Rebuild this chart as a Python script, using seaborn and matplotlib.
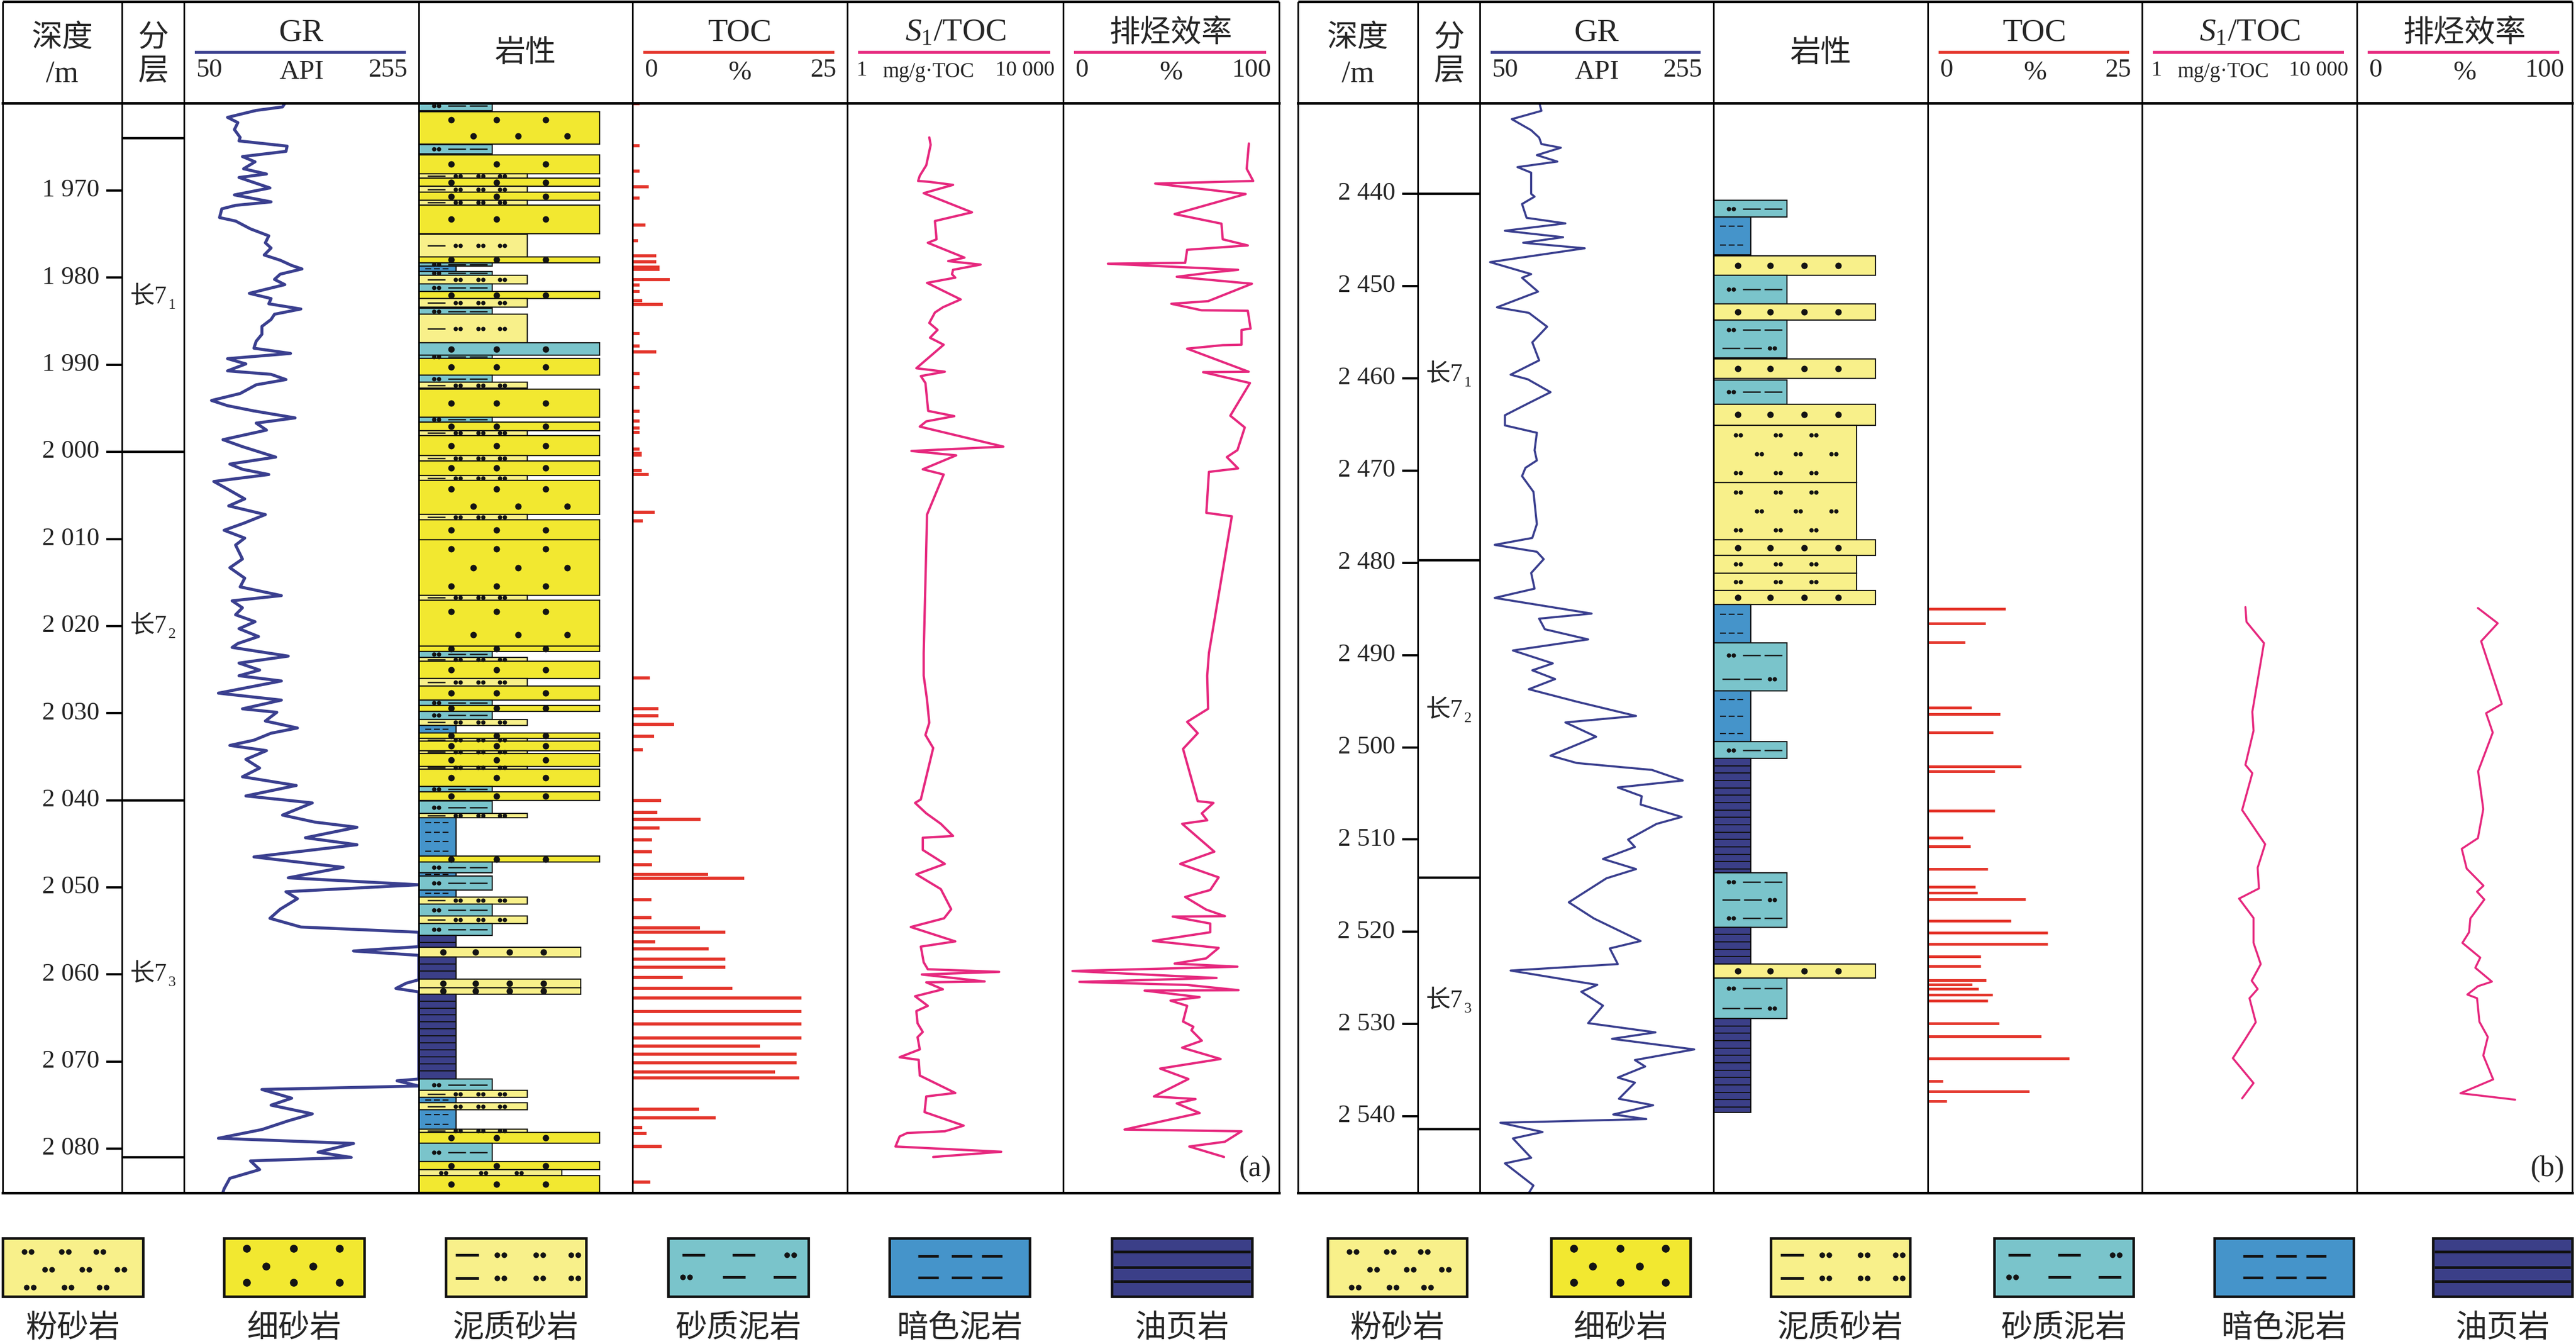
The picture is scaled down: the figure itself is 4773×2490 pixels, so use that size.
import numpy as np
import pandas as pd
import matplotlib
matplotlib.use("Agg")
import matplotlib.pyplot as plt
import seaborn as sns
from matplotlib.patches import Rectangle

sns.set_theme(style="white")
plt.rcParams['font.family'] = ['Liberation Serif', 'Noto Sans CJK SC', 'DejaVu Sans']
plt.rcParams['mathtext.fontset'] = 'custom'
plt.rcParams['mathtext.rm'] = 'Liberation Serif'
plt.rcParams['mathtext.it'] = 'Liberation Serif:italic'
plt.rcParams['axes.unicode_minus'] = False

# ---------------------------------------------------------------- data (a)
L_GR = np.array([
 (1959.8,139),(1960.4,136),(1960.8,113),(1961.6,88),(1962.2,97),(1963.0,94),(1963.9,99),(1964.3,98),
 (1964.9,140),(1965.5,139),(1966.1,101),(1966.7,112),(1967.5,102),(1968.1,122),(1968.5,98),(1969.7,125),
 (1970.5,94),(1971.3,126),(1971.7,95),(1972.1,83),(1973.1,81),(1973.5,95),(1974.4,108),(1975.2,124),
 (1976.0,121),(1976.6,126),(1977.4,120),(1978.0,134),(1978.6,144),(1979.0,153),(1979.6,134),(1980.2,129),
 (1980.8,138),(1981.8,107),(1982.4,126),(1983.0,124),(1983.6,152),(1984.2,129),(1984.8,126),(1985.6,118),
 (1986.5,118),(1987.3,113),(1988.1,111),(1988.7,143),(1989.3,88),(1989.9,104),(1990.7,88),(1991.1,126),
 (1991.7,139),(1992.3,113),(1993.3,99),(1994.1,74),(1994.7,88),(1995.3,111),(1996.1,147),(1996.7,113),
 (1997.5,122),(1998.6,84),(1999.4,101),(2000.6,130),(2001.4,90),(2002.0,101),(2002.6,124),(2003.4,76),
 (2004.2,87),(2005.4,103),(2006.2,89),(2007.2,121),(2008.2,102),(2009.0,85),(2009.9,103),(2010.7,95),
 (2012.3,101),(2013.3,90),(2014.5,103),(2015.5,99),(2016.5,135),(2017.1,92),(2017.9,101),(2018.7,95),
 (2019.5,112),(2020.3,98),(2021.2,115),(2022.0,97),(2022.45,92),(2023.45,141),(2024.25,98),(2025.05,116),
 (2025.7,98),(2026.3,135),(2027.7,80),(2028.5,135),(2029.5,101),(2029.9,131),(2030.9,121),(2031.7,149),
 (2032.3,126),(2033.1,111),(2033.7,90),(2034.3,122),(2035.3,104),(2036.3,116),(2037.3,101),(2038.3,148),
 (2039.5,104),(2040.3,162),(2041.7,136),(2042.5,164),(2043.1,201),(2044.3,156),(2045.1,201),(2046.5,111),
 (2047.7,189),(2048.9,141),(2049.7,255),(2050.5,139),(2051.3,149),(2052.5,134),(2053.55,125),(2054.55,152),
 (2055.15,255),(2056.8,255),(2057.3,198),(2057.8,255),(2060.6,255),(2061.0,244),(2061.6,235),(2062.0,255),
 (2072.0,255),(2072.2,236),(2072.8,255),(2073.2,118),(2074.2,144),(2075.0,126),(2076.0,162),(2076.8,141),
 (2077.8,118),(2078.8,80),(2079.4,198),(2080.4,167),(2081.0,196),(2081.4,108),(2082.4,116),(2083.4,90),
 (2084.6,85),(2085.0,84)])

L_TOC = np.array([
 (1960.03,0.83),(1964.87,0.83),(1967.74,0.83),(1969.55,1.9),(1970.84,0.83),(1973.95,1.5),(1975.76,0.63),
 (1977.5,2.77),(1978.18,2.77),(1978.79,3.16),(1979.03,3.16),(1980.2,4.33),(1980.85,0.83),(1981.57,0.83),
 (1982.62,1.12),(1983.1,3.5),(1986.41,0.83),(1987.87,0.83),(1988.55,2.77),(1991.01,0.83),(1992.59,0.83),
 (1995.33,0.83),(1996.46,0.83),(1997.27,0.83),(1997.75,0.83),(1999.69,0.83),(2000.17,1.07),(2000.37,1.07),
 (2002.19,1.07),(2002.59,1.9),(2006.9,2.58),(2007.92,1.2),(2025.94,2.04),(2029.47,3.0),(2030.3,3.0),
 (2031.28,4.86),(2032.64,2.53),(2034.17,1.22),(2040.03,3.36),(2041.39,2.92),(2042.19,7.93),(2043.16,3.16),
 (2044.52,2.29),(2045.93,2.29),(2047.41,2.29),(2048.53,8.8),(2048.93,13.0),(2051.42,2.19),(2053.47,2.19),
 (2054.63,7.88),(2055.15,10.8),(2056.24,2.63),(2057.04,8.85),(2058.24,10.8),(2059.17,10.8),(2060.33,5.84),
 (2061.6,11.6),(2062.7,19.65),(2064.22,19.65),(2065.67,19.65),(2067.27,19.65),(2068.24,14.8),(2069.12,19.1),
 (2070.16,19.1),(2071.17,16.6),(2071.85,19.4),(2075.46,7.73),(2076.46,9.68),(2077.55,1.12),(2078.23,1.65),
 (2079.75,3.4),(2083.85,2.09)])

L_S1 = np.array([
 (1963.9,33),(1964.75,35),(1967.1,29),(1968.3,22),(1968.9,20.5),(1969.0,33),(1969.35,91),(1970.3,26),
 (1972.5,204),(1973.5,42),(1975.6,45),(1976.0,31),(1977.7,148),(1978.1,74),(1978.5,294),(1979.1,91),
 (1979.6,87),(1980.0,100),(1980.6,30),(1982.5,126),(1983.4,59),(1984.0,42),(1985.2,33),(1986.0,47),
 (1986.9,34),(1987.7,61),(1990.4,19),(1990.8,64),(1991.3,23),(1992.1,28),(1995.3,31.5),(1995.9,96),
 (1996.5,29),(1997.1,22),(1999.4,780),(1999.9,15.4),(2000.4,104),(2002.0,25),(2002.6,61),(2007.2,30),
 (2023.1,26),(2025.7,26),(2028.5,30),(2031.1,33),(2032.5,28),(2034.0,39),(2039.9,23),(2040.3,18),
 (2041.5,29),(2042.7,54),(2044.1,91),(2044.3,25),(2045.7,25),(2047.3,64),(2048.5,19),(2050.2,54),
 (2052.5,84),(2053.55,62),(2054.55,15),(2056.2,100),(2056.8,23),(2058.6,26),(2059.4,31),(2059.7,650),
 (2060.0,24),(2060.8,350),(2060.9,29),(2061.7,59),(2062.5,18),(2063.6,31),(2064.2,19),(2065.6,20),
 (2066.6,25),(2067.2,20),(2068.6,22),(2069.5,9.3),(2069.8,21),(2071.6,22),(2073.6,100),(2074.0,29),
 (2075.8,27),(2077.35,143),(2078.0,64),(2078.2,12.8),(2078.6,9.3),(2079.75,7.8),(2080.35,710),(2080.95,39)])

L_EFF = np.array([
 (1964.6,86),(1967.5,85),(1968.9,88),(1969.2,42.6),(1970.4,84.5),(1972.7,51.6),(1973.8,73.3),(1975.6,73.9),
 (1976.3,85.5),(1976.8,57.4),(1978.3,56.5),(1978.4,20.7),(1979.1,81),(1979.4,69),(1979.9,52.6),(1980.7,87.4),
 (1982.7,67.1),(1983.0,50.1),(1983.75,64.2),(1983.8,85.5),(1985.85,86.8),(1986.0,82.6),(1987.7,82.6),
 (1987.75,73.9),(1988.15,57.4),(1990.8,85.9),(1990.85,64.8),(1992.1,86.5),(1995.85,77.4),(1997.2,84.1),
 (1999.8,80.7),(2000.6,75.8),(2001.9,81),(2002.3,67.5),(2007.0,66.3),(2007.4,78.1),(2023.1,67.5),
 (2025.7,66.7),(2029.5,67.1),(2031.0,57.4),(2032.3,62.3),(2034.1,55.5),(2040.1,62.3),(2040.3,69.6),
 (2041.5,64.2),(2042.3,66.7),(2042.7,55.1),(2045.9,70),(2047.3,54.2),(2048.85,72),(2050.3,68.1),
 (2051.1,56.5),(2052.55,66.2),(2053.3,74.9),(2053.35,50.7),(2054.15,68.1),(2055.15,68.1),(2056.15,41.6),
 (2056.95,72),(2058.15,66.2),(2058.75,51.6),(2059.1,80.7),(2059.6,4.3),(2060.4,71),(2060.85,7.5),
 (2061.2,57.4),(2061.8,81.2),(2061.85,37.7),(2062.6,63.2),(2063.0,49.7),(2063.6,57.4),(2065.4,55.5),
 (2066.0,60.3),(2066.4,59.4),(2067.6,64.2),(2068.4,55.1),(2069.7,72.9),(2070.8,44.9),(2072.0,58),
 (2074.0,42),(2074.3,61.3),(2074.8,52.6),(2075.9,63.2),(2077.8,28.4),(2078.0,82.6),(2079.2,74.9),
 (2079.75,58.4),(2080.95,74.5)])

L_BED_TOP = [1959.8,1960.96,1964.75,1965.88,1968.1,1968.6,1969.5,1970.2,1971.1,1971.65,1975.0,1977.6,
 1978.3,1978.7,1979.3,1979.7,1980.7,1981.6,1982.4,1983.5,1984.2,1987.5,1988.9,1989.3,1991.2,1992.0,1992.8,
 1996.0,1996.6,1997.55,1998.15,2000.45,2001.05,2002.7,2003.3,2007.2,2007.8,2010.1,2016.5,2017.0,2022.3,
 2022.9,2023.6,2024.05,2026.0,2026.9,2028.5,2029.1,2029.8,2030.7,2031.4,2032.25,2032.9,2033.2,2034.3,
 2034.6,2036.1,2036.4,2038.4,2039.0,2040.1,2041.5,2042.0,2046.4,2047.1,2048.3,2048.7,2050.3,2051.1,
 2051.9,2053.3,2054.15,2055.5,2056.9,2058.0,2060.55,2061.5,2062.25,2072.0,2073.3,2074.1,2074.75,2075.55,
 2077.75,2078.15,2079.35,2081.5,2082.4,2083.1]
L_BED_BOT = [1960.8,1964.67,1965.76,1968.1,1968.6,1969.5,1970.2,1971.1,1971.65,1974.96,1977.6,1978.3,
 1978.7,1979.3,1979.7,1980.7,1981.6,1982.4,1983.4,1984.2,1987.5,1988.9,1989.3,1991.2,1992.0,1992.7,1996.0,
 1996.6,1997.55,1998.15,2000.45,2001.05,2002.7,2003.3,2007.2,2007.8,2010.1,2016.5,2017.0,2022.3,2022.9,
 2023.6,2024.05,2026.0,2026.9,2028.5,2029.1,2029.8,2030.7,2031.4,2032.25,2032.9,2033.2,2034.3,2034.6,
 2036.1,2036.4,2038.4,2039.0,2040.0,2041.5,2042.0,2046.4,2047.1,2048.3,2048.7,2050.3,2051.1,2051.9,
 2053.3,2054.15,2055.5,2056.9,2058.0,2060.55,2061.5,2062.25,2072.0,2073.3,2074.1,2074.75,2075.55,2077.75,
 2078.15,2079.35,2081.5,2082.4,2083.1,2085.0]
L_BED_LITH = ['SM','F','SM','F','MS','F','MS','F','MS','F','MS','F','SM','DM','SM','MS','SM','F','MS','SM',
 'MS','Fc','SM','F','SM','MS','F','SM','F','MS','F','MS','F','MS','F','MS','F','F','MS','F','F','SM','MS',
 'F','MS','F','SM','F','SM','MS','DM','F','MS','F','MS','F','MS','F','SM','F','SM','MS','DM','F','SM','DM',
 'SM','DM','MS','SM','MS','SM','OS','Fp','OS','Fp','Fp','OS','SM','MS','DM','MS','DM','MS','F','SM','F',
 'S','F']

L_DEPTH_TICKS = [1970, 1980, 1990, 2000, 2010, 2020, 2030, 2040, 2050, 2060, 2070, 2080]
L_STRAT_BOUNDS = [1964, 2000, 2040, 2081]
L_STRAT_SUB = ['1', '2', '3']
L_STRAT_DEPTH = [1982.2, 2020.0, 2060.0]

# ---------------------------------------------------------------- data (b)
R_GR = np.array([
 (2430.05,102),(2431.0,104),(2431.9,78),(2433.1,95),(2433.9,102),(2434.6,104),(2435.0,121),(2435.8,100),
 (2436.5,118),(2437.1,83),(2437.7,95),(2440.0,95),(2440.3,98),(2441.1,87),(2442.6,91),(2443.2,125),
 (2444.0,72),(2444.7,123),(2445.3,88),(2445.9,142),(2447.4,59),(2448.7,95),(2449.1,87),(2450.6,101),
 (2452.3,65),(2452.9,93),(2454.4,109),(2456.1,96),(2458.05,102),(2459.6,77),(2460.1,92),(2461.5,112),
 (2462.8,91),(2464.0,72),(2465.1,72),(2465.9,100),(2467.8,98),(2468.9,100),(2469.7,90),(2470.6,87),
 (2472.3,97),(2475.8,100),(2477.3,96),(2478.05,63),(2478.8,100),(2479.6,106),(2481.1,95),(2482.8,98),
 (2483.8,63),(2485.5,148),(2486.05,102),(2487.2,107),(2488.3,145),(2489.5,79),(2490.9,114),(2491.65,96),
 (2492.6,116),(2493.7,93),(2495.05,135),(2496.6,187),(2497.3,125),(2498.85,152),(2500.9,112),(2501.7,135),
 (2502.45,201),(2503.6,228),(2504.35,171),(2505.3,192),(2506.2,191),(2507.55,227),(2508.3,205),(2510.0,180),
 (2510.8,186),(2512.1,158),(2513.2,187),(2514.2,161),(2516.8,128),(2518.55,150),(2521.0,191),(2521.8,164),
 (2523.5,171),(2524.2,77),(2525.75,153),(2526.5,139),(2528.0,158),(2529.9,145),(2530.9,204),(2531.6,166),
 (2532.75,238),(2533.9,186),(2534.6,195),(2535.8,171),(2536.35,186),(2538.1,172),(2538.8,202),(2539.8,167),
 (2540.3,196),(2540.7,68),(2541.7,105),(2542.4,79),(2544.5,95),(2545.1,72),(2547.5,97),(2548.5,92)])

R_TOC = np.array([
 (2485.0,9.04),(2486.55,6.72),(2488.6,4.35),(2495.7,5.08),(2496.4,8.46),(2498.4,7.6),(2502.05,10.9),
 (2502.6,7.8),(2506.9,7.8),(2509.8,4.1),(2510.75,5.0),(2513.2,7.0),(2515.1,5.56),(2515.75,5.8),
 (2516.45,11.4),(2518.8,9.67),(2520.1,14.0),(2521.3,14.0),(2522.7,6.14),(2523.75,6.14),(2525.25,6.77),
 (2525.7,5.17),(2526.2,5.95),(2526.8,7.54),(2527.45,6.96),(2529.9,8.3),(2531.35,13.2),(2533.75,16.5),
 (2536.2,1.79),(2537.3,11.85),(2538.35,2.22)])

R_S1 = np.array([
 (2484.8,84),(2486.4,88),(2488.7,186),(2496.15,113),(2498.2,119),(2501.9,84),(2502.8,113),(2506.8,73),
 (2510.5,196),(2513.05,142),(2515.3,150),(2516.4,64),(2518.5,119),(2521.2,119),(2523.5,162),(2525.3,110),
 (2526.2,142),(2527.2,100),(2529.8,131),(2531.6,84),(2533.7,49),(2536.4,119),(2538.05,73)])

R_EFF = np.array([
 (2484.9,56.2),(2486.55,65.4),(2488.5,57.7),(2495.3,67.3),(2496.3,60.0),(2498.4,63.1),(2502.6,56.3),
 (2506.7,58.7),(2509.85,56.2),(2511.0,48.7),(2513.15,51.0),(2515.0,58.8),(2515.65,55.8),(2516.5,59.2),
 (2518.55,52.7),(2520.05,52.1),(2521.2,49.0),(2522.8,57.3),(2523.9,55.0),(2525.4,62.7),(2525.9,56.2),
 (2526.8,51.3),(2527.2,55.8),(2529.75,56.9),(2531.4,60.8),(2533.4,58.7),(2536.0,63.3),(2537.5,48.1),
 (2538.2,73.5)])

R_BED_TOP = [2440.7,2442.5,2446.7,2448.8,2451.9,2453.7,2457.9,2460.15,2462.8,2465.1,2471.3,2477.5,2479.2,
 2481.1,2483.0,2484.5,2488.7,2493.9,2499.4,2501.2,2513.6,2519.5,2523.5,2525.0,2529.4]
R_BED_BOT = [2442.5,2446.6,2448.8,2451.9,2453.7,2457.75,2460.0,2462.8,2465.1,2471.3,2477.5,2479.2,2481.1,
 2483.0,2484.5,2488.7,2493.9,2499.4,2501.2,2513.6,2519.5,2523.5,2525.0,2529.4,2539.6]
R_BED_LITH = ['SM','DM','Fp','SM','Fp','SM','Fp','SM','Fp','S','S','Fp','S','S','Fp','DM','SM','DM','SM',
 'OS','SM','OS','Fp','SM','OS']

R_DEPTH_TICKS = [2440, 2450, 2460, 2470, 2480, 2490, 2500, 2510, 2520, 2530, 2540]
R_STRAT_BOUNDS = [2440, 2479.7, 2514.1, 2541.4]
R_STRAT_SUB = ['1', '2', '3']
R_STRAT_DEPTH = [2459.6, 2496.0, 2527.5]

LEGEND_CODES = ['S', 'F', 'MS', 'SM', 'DM', 'OS']
LEGEND_NAMES = ['粉砂岩', '细砂岩', '泥质砂岩', '砂质泥岩', '暗色泥岩', '油页岩']

# ---------------------------------------------------------------- styles / layout
W, H = 4773, 2490
HT, HB, DB = 3, 191, 2210
GR_C = '#3A3F8F'
TOC_C = '#E4352B'
MAG_C = '#E6287E'
DOT = '#141414'
LITH = {
    'F':  dict(fc='#F2E830', w=335),
    'Fc': dict(fc='#7AC4CB', w=335),
    'Fp': dict(fc='#F8F08A', w=300),
    'S':  dict(fc='#F8F08A', w=265),
    'MS': dict(fc='#F8F08A', w=201),
    'SM': dict(fc='#7AC4CB', w=136),
    'DM': dict(fc='#4594CA', w=69),
    'OS': dict(fc='#3B3F88', w=69),
}

PANELS = [
    dict(cols=[5, 226, 341, 776, 1172, 1570, 1970, 2370], dtop=1959.96, dbot=2085.07,
         gr=L_GR, toc=L_TOC, s1=L_S1, eff=L_EFF, top=L_BED_TOP, bot=L_BED_BOT, lith=L_BED_LITH,
         ticks=L_DEPTH_TICKS, bounds=L_STRAT_BOUNDS, sub=L_STRAT_SUB, sdep=L_STRAT_DEPTH,
         tag='(a)', dm_sp=1.1, lw_gr=4.0, lw_mag=3.1, lw_toc=4.2,
         leg_x=[5, 415, 826, 1238, 1648, 2060], leg_w=260),
    dict(cols=[2405, 2627, 2742, 3175, 3572, 3969, 4367, 4766], dtop=2430.16, dbot=2548.3,
         gr=R_GR, toc=R_TOC, s1=R_S1, eff=R_EFF, top=R_BED_TOP, bot=R_BED_BOT, lith=R_BED_LITH,
         ticks=R_DEPTH_TICKS, bounds=R_STRAT_BOUNDS, sub=R_STRAT_SUB, sdep=R_STRAT_DEPTH,
         tag='(b)', dm_sp=2.0, lw_gr=2.8, lw_mag=2.7, lw_toc=3.6,
         leg_x=[2460, 2874, 3281, 3695, 4103, 4508], leg_w=258),
]

fig = plt.figure(figsize=(W / 100, H / 100), dpi=100)
fig.patch.set_facecolor('white')
ov = fig.add_axes([0, 0, 1, 1])
ov.set_xlim(0, W)
ov.set_ylim(H, 0)
ov.axis('off')
ov.set_zorder(0)


def fax(x0, x1, y0=HB, y1=DB):
    ax = fig.add_axes([x0 / W, 1 - y1 / H, (x1 - x0) / W, (y1 - y0) / H])
    ax.set_zorder(1)
    ax.set_facecolor('white')
    return ax


def finish(ax):
    ax.set_xlabel('')
    ax.set_ylabel('')
    ax.set_xticks([])
    ax.set_yticks([])
    ax.minorticks_off()
    ax.grid(False)
    for s in ax.spines.values():
        s.set_visible(True)
        s.set_color('black')
        s.set_linewidth(2.2)
    ax.spines['top'].set_linewidth(3.6)
    ax.spines['bottom'].set_linewidth(3.6)


def dots(ax, xs, y, ms, z=5):
    xs = np.atleast_1d(np.asarray(xs, float))
    ax.plot(xs, np.full(len(xs), y), 'o', ms=ms, color=DOT, mec='none', zorder=z, clip_on=True)


def pairs(ax, xs, y, ms, sep, z=5):
    xs = np.atleast_1d(np.asarray(xs, float))
    dots(ax, np.r_[xs - sep / 2, xs + sep / 2], y, ms, z)


def dashes(ax, xs, y, length, lw, z=5):
    xs = np.atleast_1d(np.asarray(xs, float))
    ax.hlines(np.full(len(xs), y), xs - length / 2, xs + length / 2, color=DOT, lw=lw, zorder=z)


def col_pattern(ax, code, top, bot, w, dm_sp):
    t = bot - top
    if code == 'OS':
        ys = np.arange(top + 0.8, bot - 0.15, 0.8)
        if len(ys):
            ax.hlines(ys, 0, w, color='#111111', lw=1.5, zorder=4)
        return
    sp = dm_sp if code == 'DM' else 2.1
    n = max(1, int(round(t / sp - 0.2)))
    for i in range(n):
        y = top + (i + 0.5) * t / n
        alt = i % 2
        if code in ('F', 'Fc'):
            fr = [0.18, 0.43, 0.70] if alt == 0 else [0.30, 0.55, 0.82]
            dots(ax, np.array(fr) * w, y, 8.6)
        elif code == 'Fp':
            dots(ax, np.array([0.15, 0.35, 0.56, 0.77]) * w, y, 8.6)
        elif code == 'S':
            fr = [0.17, 0.45, 0.70] if alt == 0 else [0.32, 0.59, 0.84]
            pairs(ax, np.array(fr) * w, y, 5.8, 9)
        elif code == 'MS':
            dashes(ax, [0.16 * w], y, 33, 1.8)
            pairs(ax, np.array([0.36, 0.57, 0.77]) * w, y, 5.8, 9)
        elif code == 'SM':
            if alt == 0:
                pairs(ax, [0.24 * w], y, 5.8, 9)
                dashes(ax, [0.52 * w, 0.81 * w], y, 33, 1.8)
            else:
                dashes(ax, [0.24 * w, 0.53 * w], y, 33, 1.8)
                pairs(ax, [0.80 * w], y, 5.8, 9)
        elif code == 'DM':
            dashes(ax, [17, 33, 49], y, 11, 1.6)


def leg_pattern(code, x0, y0, s):
    X = lambda v: x0 + np.asarray(v, float) * s
    if code == 'S':
        for yy, xs in [(25, [47, 116, 180]), (58, [85, 154, 219]), (91, [51, 121, 186])]:
            pairs(ov, X(xs), y0 + yy, 7.5, 13)
    elif code == 'F':
        for yy, xs in [(19, [42, 129, 214]), (52, [78, 165]), (82, [42, 129, 214])]:
            dots(ov, X(xs), y0 + yy, 10.5)
    elif code == 'MS':
        for yy in (31, 74):
            dashes(ov, X([40]), y0 + yy, 43 * s, 3.6)
            pairs(ov, X([102, 174, 239]), y0 + yy, 7.5, 13)
    elif code == 'SM':
        dashes(ov, X([47, 140]), y0 + 31, 42 * s, 3.6)
        pairs(ov, X([227]), y0 + 31, 7.5, 13)
        pairs(ov, X([34]), y0 + 72, 7.5, 13)
        dashes(ov, X([122, 216]), y0 + 72, 42 * s, 3.6)
    elif code == 'DM':
        for yy in (33, 73):
            dashes(ov, X([72, 134, 190]), y0 + yy, 38 * s, 3.6)
    elif code == 'OS':
        ov.hlines([y0 + 24.5, y0 + 54, y0 + 79.5], x0 + 3, X(257), color='#111111', lw=3.6, zorder=5)


for P in PANELS:
    c = P['cols']
    cx = [(c[i] + c[i + 1]) / 2 for i in range(7)]

    # ---- header
    ov.hlines(HT, c[0], c[-1], color='black', lw=3.6)
    ov.hlines(HB, c[0], c[-1], color='black', lw=3.6)
    ov.vlines(c, HT, HB, color='black', lw=2.2)
    ov.text(cx[0], 72, '深度', ha='center', va='center', fontsize=41)
    ov.text(cx[0], 138, '/m', ha='center', va='center', fontsize=41)
    ov.text(cx[1], 72, '分', ha='center', va='center', fontsize=41)
    ov.text(cx[1], 134, '层', ha='center', va='center', fontsize=41)
    ov.text(cx[3], 100, '岩性', ha='center', va='center', fontsize=41)
    heads = [
        (2, 'GR', GR_C, '50', 'API', '255', 35, 37, cx[2], 20),
        (4, 'TOC', TOC_C, '0', '%', '25', 35, 37, cx[4], 20),
        (5, r'$S_\mathrm{1}$/TOC', MAG_C, '1', 'mg/g·TOC', '10 000', 29, 28, c[5] + 150, 16),
        (6, '排烃效率', MAG_C, '0', '%', '100', 35, 37, cx[6], 14),
    ]
    for i, title, col, lo, mid, hi, fs1, fs2, xm, rin in heads:
        ov.text(cx[i], 62, title, ha='center', va='center', fontsize=43 if i != 6 else 41)
        ov.hlines(97, c[i] + 20, c[i + 1] - 24, color=col, lw=4.0)
        xl = c[i] + (22 if i != 5 else 17)
        ov.text(xl, 130, lo, ha='left', va='center', fontsize=fs1)
        ov.text(xm, 134, mid, ha='center', va='center', fontsize=fs2)
        ov.text(c[i + 1] - rin, 130, hi, ha='right', va='center', fontsize=fs1)

    # ---- depth + strat columns
    ax = fax(c[0], c[2])
    ax.set_xlim(0, c[2] - c[0])
    ax.set_ylim(P['dbot'], P['dtop'])
    xs = c[1] - c[0]
    ax.axvline(xs, color='black', lw=2.2)
    ticks = np.array(P['ticks'])
    ax.hlines(ticks, xs - 29, xs, color='black', lw=3.0)
    for t in ticks:
        ax.text(xs - 42, t, f"{t // 1000} {t % 1000:03d}", ha='right', va='center', fontsize=34)
    ax.hlines(P['bounds'], xs, c[2] - c[0], color='black', lw=3.2)
    xc = (c[1] + c[2]) / 2 - c[0]
    for sub, d in zip(P['sub'], P['sdep']):
        ax.text(xc + 26, d, '长7', ha='right', va='center', fontsize=33)
        ax.annotate(sub, xy=(xc + 28, d), xytext=(0, -11), textcoords='offset points',
                    ha='left', va='center', fontsize=20)
    finish(ax)

    # ---- GR
    ax = fax(c[2], c[3])
    df = pd.DataFrame(P['gr'], columns=['depth', 'GR'])
    sns.lineplot(data=df, x='GR', y='depth', sort=False, estimator=None, color=GR_C,
                 lw=P['lw_gr'], ax=ax, legend=False)
    ax.set_xlim(50, 255)
    ax.set_ylim(P['dbot'], P['dtop'])
    finish(ax)

    # ---- lithology
    ax = fax(c[3], c[4])
    ax.set_xlim(0, c[4] - c[3])
    ax.set_ylim(P['dbot'], P['dtop'])
    for top, bot, code in zip(P['top'], P['bot'], P['lith']):
        st = LITH[code]
        ax.barh((top + bot) / 2, st['w'], height=bot - top, left=0, color=st['fc'],
                edgecolor='#111111', linewidth=1.6, zorder=2)
    for top, bot, code in zip(P['top'], P['bot'], P['lith']):
        col_pattern(ax, code, top, bot, LITH[code]['w'], P['dm_sp'])
    finish(ax)

    # ---- TOC
    ax = fax(c[4], c[5])
    ax.hlines(P['toc'][:, 0], 0, P['toc'][:, 1], color=TOC_C, lw=P['lw_toc'])
    ax.set_xlim(0, 25)
    ax.set_ylim(P['dbot'], P['dtop'])
    finish(ax)

    # ---- S1/TOC
    ax = fax(c[5], c[6])
    ax.set_xscale('log')
    df = pd.DataFrame(P['s1'], columns=['depth', 'S1TOC'])
    sns.lineplot(data=df, x='S1TOC', y='depth', sort=False, estimator=None, color=MAG_C,
                 lw=P['lw_mag'], ax=ax, legend=False)
    ax.set_xlim(1, 10000)
    ax.set_ylim(P['dbot'], P['dtop'])
    finish(ax)

    # ---- expulsion efficiency
    ax = fax(c[6], c[7])
    df = pd.DataFrame(P['eff'], columns=['depth', 'eff'])
    sns.lineplot(data=df, x='eff', y='depth', sort=False, estimator=None, color=MAG_C,
                 lw=P['lw_mag'], ax=ax, legend=False)
    ax.set_xlim(0, 100)
    ax.set_ylim(P['dbot'], P['dtop'])
    ax.text(0.965, 0.022, P['tag'], transform=ax.transAxes, ha='right', va='center', fontsize=39)
    finish(ax)

    # ---- legend
    s = P['leg_w'] / 260.0
    for x0, code, name in zip(P['leg_x'], LEGEND_CODES, LEGEND_NAMES):
        y0 = 2294
        ov.add_patch(Rectangle((x0, y0), P['leg_w'], 108, facecolor=LITH[code]['fc'],
                               edgecolor='#111111', lw=3.4, zorder=3))
        leg_pattern(code, x0, y0, s)
        ov.text(x0 + P['leg_w'] / 2, 2462, name, ha='center', va='center', fontsize=42)

fig.savefig('out.png', dpi=100, facecolor='white')
